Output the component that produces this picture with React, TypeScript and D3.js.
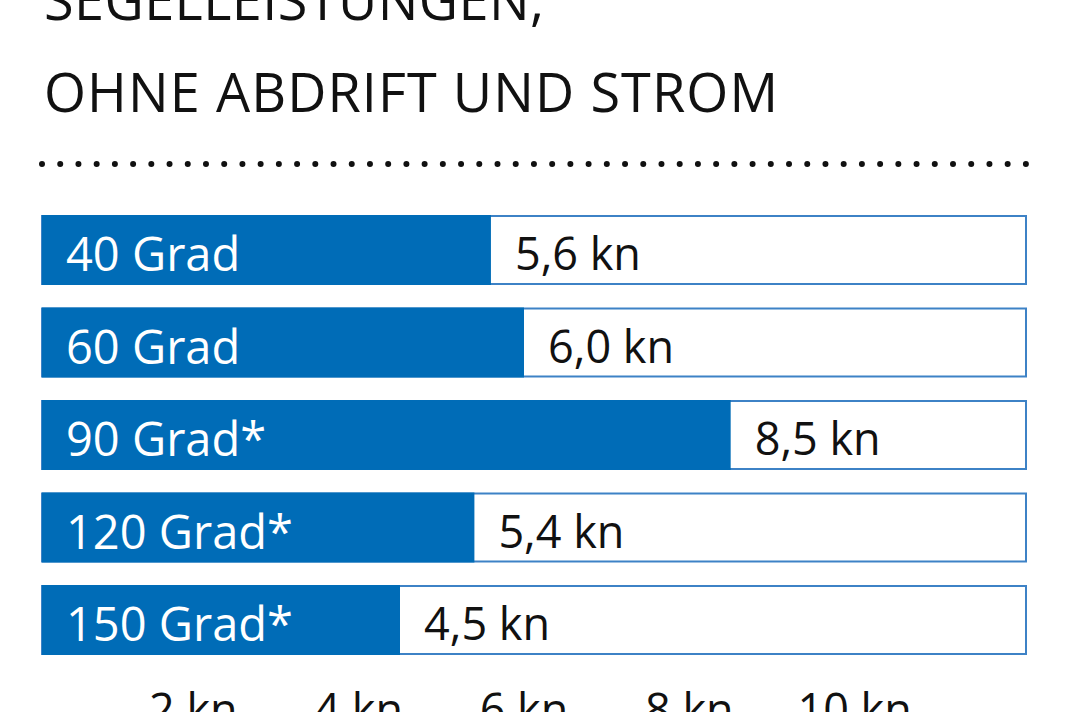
import React from "react";
import * as d3 from "d3";

const titleLines = ["SEGELLEISTUNGEN,", "OHNE ABDRIFT UND STROM"];
const categories = ["40 Grad", "60 Grad", "90 Grad*", "120 Grad*", "150 Grad*"];
const speeds = [5.6, 6.0, 8.5, 5.4, 4.5];
const valueLabels = ["5,6 kn", "6,0 kn", "8,5 kn", "5,4 kn", "4,5 kn"];
const tickValues = [2, 4, 6, 8, 10];
const tickLabels = ["2 kn", "4 kn", "6 kn", "8 kn", "10 kn"];

const W = 1068;
const H = 712;
const BLUE = "#006cb7";
const FONT = "'Open Sans', 'Noto Sans', sans-serif";

export default function App() {
  const boxLeft = 42;
  const boxRight = 1026;
  const x = d3.scaleLinear().domain([0, 12]).range([28, 1020]);
  const y = d3
    .scaleBand<string>()
    .domain(categories)
    .range([203.75, 666.25])
    .paddingInner(0.265)
    .paddingOuter(0.1325);
  const bh = y.bandwidth();

  const dotsLine = d3.line()([
    [42, 164],
    [1030, 164],
  ]);

  return (
    <svg
      width={W}
      height={H}
      style={{ position: "absolute", left: 0, top: 0, background: "#fff" }}
      fontFamily={FONT}
    >
      <rect x={0} y={0} width={W} height={H} fill="#fff" />
      <text x={44} y={20} fontSize={54} fill="#111" textLength={500} lengthAdjust="spacing">
        {titleLines[0]}
      </text>
      <text x={44} y={112} fontSize={54} fill="#111" textLength={734} lengthAdjust="spacing">
        {titleLines[1]}
      </text>
      <path
        d={dotsLine || ""}
        stroke="#111"
        strokeWidth={6}
        strokeLinecap="round"
        strokeDasharray="0 18.22"
        fill="none"
      />
      {categories.map((c, i) => {
        const top = y(c) as number;
        const end = x(speeds[i]);
        return (
          <g key={c}>
            <rect
              x={boxLeft}
              y={top}
              width={boxRight - boxLeft}
              height={bh}
              fill="#fff"
              stroke="#3d82c6"
              strokeWidth={2}
            />
            <rect x={boxLeft} y={top - 1} width={end - boxLeft} height={bh + 2} fill={BLUE} />
            <text x={66} y={top + 55} fontSize={47} fill="#fff">
              {c}
            </text>
            <text x={end + 24} y={top + 54} fontSize={45} fill="#111">
              {valueLabels[i]}
            </text>
          </g>
        );
      })}
      {tickValues.map((t, i) => (
        <text key={t} x={x(t)} y={726} fontSize={45} fill="#111" textAnchor="middle">
          {tickLabels[i]}
        </text>
      ))}
    </svg>
  );
}
